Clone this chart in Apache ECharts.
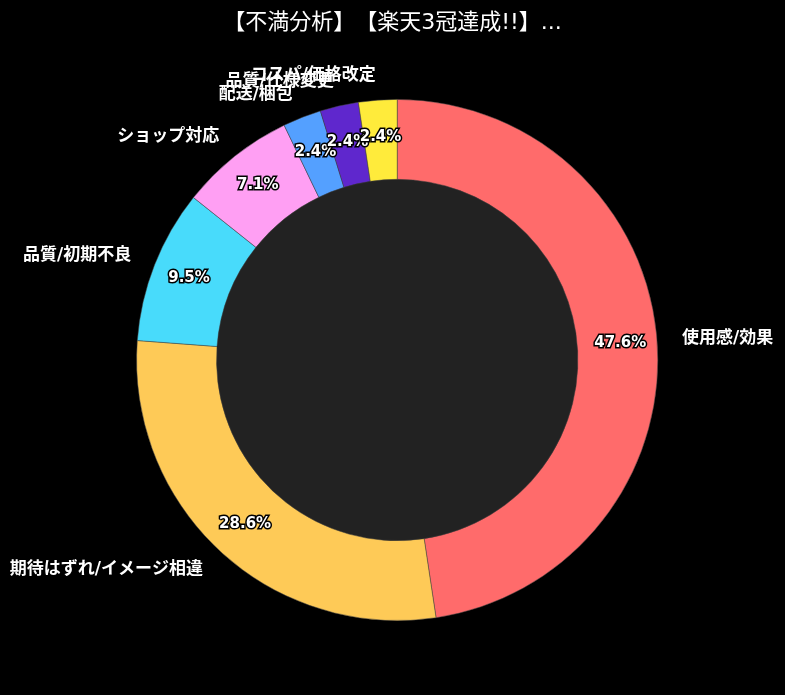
<!DOCTYPE html>
<html lang="ja">
<head>
  <meta charset="UTF-8">
  <title>不満分析</title>
  <style>
    html, body { margin: 0; padding: 0; background: #000; }
    #chart { width: 785px; height: 695px; }
    #chart, #chart * { text-spacing-trim: space-all; }
  </style>
  <script src="https://cdn.jsdelivr.net/npm/echarts@6/dist/echarts.min.js"></script>
</head>
<body>
  <div id="chart"></div>
  <script>
    // カテゴリと件数
    const categories = ['使用感/効果', '期待はずれ/イメージ相違', '品質/初期不良', 'ショップ対応', '配送/梱包', '品質/仕様変更', 'コスパ/価格改定'];
    const counts = [20, 12, 4, 3, 1, 1, 1];
    const colors = ['#ff6b6b', '#feca57', '#48dbfb', '#ff9ff3', '#54a0ff', '#5f27cd', '#ffeb3b'];

    const FONT = '"DejaVu Sans", "Noto Sans CJK JP", sans-serif';

    const pieData = categories.map((name, i) => ({ name: name, value: counts[i], itemStyle: { color: colors[i] } }));

    const chart = echarts.init(document.getElementById('chart'));
    const center = ['50.6%', '51.8%'];
    const radius = ['52%', '75%'];

    chart.setOption({
      backgroundColor: '#000',
      title: {
        text: '【不満分析】【楽天3冠達成!!】...',
        left: 'center',
        top: 7,
        textStyle: { color: '#fff', fontSize: 22, fontWeight: 'normal', fontFamily: FONT }
      },
      series: [
        {
          // 中央の円
          type: 'pie',
          silent: true,
          center: center,
          radius: [0, '52%'],
          label: { show: false },
          labelLine: { show: false },
          data: [{ value: 1, itemStyle: { color: '#222' } }],
          animation: false
        },
        {
          type: 'pie',
          center: center,
          radius: radius,
          avoidLabelOverlap: false,
          labelLayout: { hideOverlap: false },
          itemStyle: { borderColor: '#444', borderWidth: 0.5 },
          label: {
            show: true,
            position: 'outside',
            color: '#fff',
            fontSize: 17,
            fontWeight: 'bold',
            fontFamily: FONT,
            distanceToLabelLine: 0,
            formatter: '{b}'
          },
          labelLine: { show: false, length: 25, length2: 0 },
          data: pieData,
          animation: false
        },
        {
          type: 'pie',
          center: center,
          radius: radius,
          avoidLabelOverlap: false,
          labelLayout: { hideOverlap: false },
          itemStyle: { color: 'transparent' },
          label: {
            show: true,
            position: 'inside',
            color: '#fff',
            fontSize: 15,
            fontWeight: 'bold',
            fontFamily: FONT,
            textBorderColor: '#000',
            textBorderWidth: 3,
            formatter: p => p.percent.toFixed(1) + '%'
          },
          labelLine: { show: false },
          data: categories.map((name, i) => ({ name: name, value: counts[i] })),
          animation: false
        }
      ]
    });
  </script>
</body>
</html>
